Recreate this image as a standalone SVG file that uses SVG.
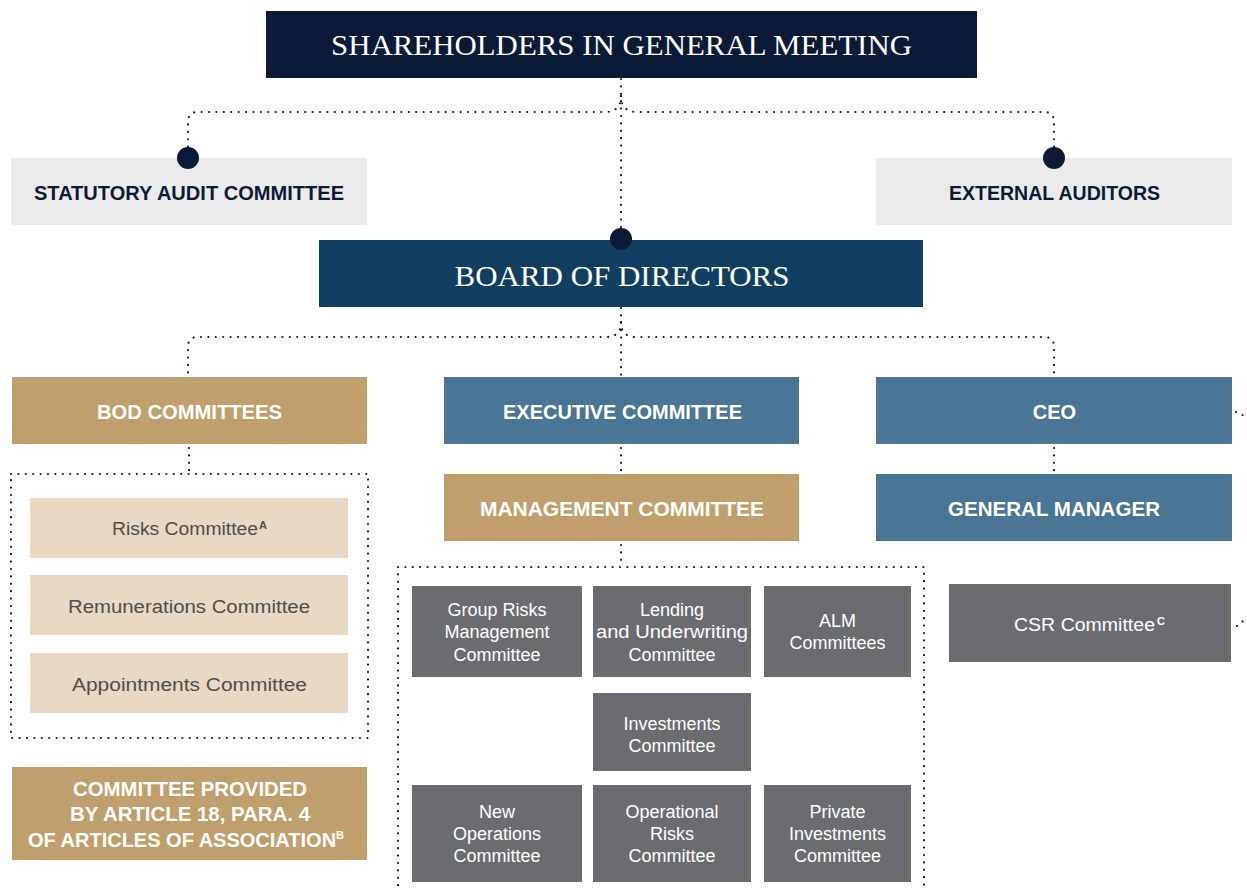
<svg xmlns="http://www.w3.org/2000/svg" width="1247" height="891" viewBox="0 0 1247 891">
<style>
.conn{fill:none;stroke:#0b1a36;stroke-width:2.2;stroke-linecap:round;stroke-dasharray:0 7.4}
.dot{fill:#0b1a36}
.serif{font-family:"Liberation Serif","DejaVu Serif",serif;fill:#ffffff;text-anchor:middle}
.hb{font-family:"Liberation Sans","DejaVu Sans",sans-serif;font-weight:bold;font-size:20px;text-anchor:middle}
.lt{font-family:"Liberation Sans","DejaVu Sans",sans-serif;font-size:18px;text-anchor:middle}
.w{fill:#ffffff}
.nv{fill:#0b1a36}
.gt{fill:#4d4d4d}
.sup{font-family:"Liberation Sans","DejaVu Sans",sans-serif;font-size:11px;font-weight:bold}
</style>
<rect width="1247" height="891" fill="#ffffff"/>
<g id="connectors">
<path class="conn" d="M621,79 L621,238"/>
<path class="conn" d="M621,96 Q621,112 605,112 L198,112 Q188,112 188,122 L188,150"/>
<path class="conn" d="M621,96 Q621,112 637,112 L1044,112 Q1054,112 1054,122 L1054,150"/>
<path class="conn" d="M621,308 L621,377"/>
<path class="conn" d="M621,322 Q621,337 606,337 L198,337 Q188,337 188,347 L188,377"/>
<path class="conn" d="M621,322 Q621,337 636,337 L1044,337 Q1054,337 1054,347 L1054,377"/>
<path class="conn" d="M189,448 L189,474"/>
<path class="conn" d="M621,448 L621,474"/>
<path class="conn" d="M1054,448 L1054,474"/>
<path class="conn" d="M621,545 L621,567"/>
<rect class="conn" x="11" y="474" width="357" height="264"/>
<path class="conn" d="M398,900 L398,567 L924,567 L924,900"/>
<path class="conn" d="M1236,412 Q1244,414 1252,424"/>
<path class="conn" d="M1237,626 Q1244,621 1252,612"/>
</g>
<g id="shareholders">
<rect x="266" y="11" width="711" height="67" fill="#0b1a36"/>
<text class="serif" x="621.5" y="55" font-size="29" textLength="581" lengthAdjust="spacingAndGlyphs">SHAREHOLDERS IN GENERAL MEETING</text>
</g>
<g id="statutory-audit">
<rect x="11" y="158" width="356" height="67" fill="#ebebeb"/>
<circle class="dot" cx="188" cy="158" r="11"/>
<text class="hb nv" x="189" y="200" textLength="310" lengthAdjust="spacingAndGlyphs">STATUTORY AUDIT COMMITTEE</text>
</g>
<g id="external-auditors">
<rect x="876" y="158" width="356" height="67" fill="#ebebeb"/>
<circle class="dot" cx="1054" cy="158" r="11"/>
<text class="hb nv" x="1054.5" y="200" textLength="211" lengthAdjust="spacingAndGlyphs">EXTERNAL AUDITORS</text>
</g>
<g id="board">
<rect x="319" y="240" width="604" height="67" fill="#123e62"/>
<circle class="dot" cx="621" cy="239" r="11"/>
<text class="serif" x="622" y="286" font-size="29" textLength="335" lengthAdjust="spacingAndGlyphs">BOARD OF DIRECTORS</text>
</g>
<g id="bod-committees">
<rect x="12" y="377" width="355" height="67" fill="#bfa06d"/>
<text class="hb w" x="189.5" y="419" textLength="185" lengthAdjust="spacingAndGlyphs">BOD COMMITTEES</text>
</g>
<g id="executive-committee">
<rect x="444" y="377" width="355" height="67" fill="#4b7594"/>
<text class="hb w" x="622.5" y="419" textLength="239" lengthAdjust="spacingAndGlyphs">EXECUTIVE COMMITTEE</text>
</g>
<g id="ceo">
<rect x="876" y="377" width="356" height="67" fill="#4b7594"/>
<text class="hb w" x="1054.5" y="419">CEO</text>
</g>
<g id="management-committee">
<rect x="444" y="474" width="355" height="67" fill="#bfa06d"/>
<text class="hb w" x="622" y="516" textLength="284" lengthAdjust="spacingAndGlyphs">MANAGEMENT COMMITTEE</text>
</g>
<g id="general-manager">
<rect x="876" y="474" width="356" height="67" fill="#4b7594"/>
<text class="hb w" x="1054" y="516" textLength="212" lengthAdjust="spacingAndGlyphs">GENERAL MANAGER</text>
</g>
<g id="risks-committee">
<rect x="30" y="498" width="318" height="60" fill="#e9d8c4"/>
<text class="lt gt" x="185" y="535" textLength="146" lengthAdjust="spacingAndGlyphs">Risks Committee</text>
<text class="sup gt" x="259" y="529">A</text>
</g>
<g id="remunerations-committee">
<rect x="30" y="575" width="318" height="60" fill="#e9d8c4"/>
<text class="lt gt" x="189" y="613" textLength="242" lengthAdjust="spacingAndGlyphs">Remunerations Committee</text>
</g>
<g id="appointments-committee">
<rect x="30" y="653" width="318" height="60" fill="#e9d8c4"/>
<text class="lt gt" x="189.5" y="691" textLength="235" lengthAdjust="spacingAndGlyphs">Appointments Committee</text>
</g>
<g id="article-18-committee">
<rect x="12" y="767" width="355" height="93" fill="#bfa06d"/>
<text class="hb w" x="190" y="796" textLength="234" lengthAdjust="spacingAndGlyphs">COMMITTEE PROVIDED</text>
<text class="hb w" x="190" y="821" textLength="240" lengthAdjust="spacingAndGlyphs">BY ARTICLE 18, PARA. 4</text>
<text class="hb w" x="186" y="847">OF ARTICLES OF ASSOCIATION<tspan class="sup" dy="-8">B</tspan></text>
</g>
<g id="group-risks">
<rect x="412" y="586" width="170" height="91" fill="#6b6c70"/>
<text class="lt w" x="497" y="616">Group Risks</text>
<text class="lt w" x="497" y="638">Management</text>
<text class="lt w" x="497" y="661">Committee</text>
</g>
<g id="lending">
<rect x="593" y="586" width="158" height="91" fill="#6b6c70"/>
<text class="lt w" x="672" y="616">Lending</text>
<text class="lt w" x="672" y="638" textLength="152" lengthAdjust="spacingAndGlyphs">and Underwriting</text>
<text class="lt w" x="672" y="661">Committee</text>
</g>
<g id="alm">
<rect x="764" y="586" width="147" height="91" fill="#6b6c70"/>
<text class="lt w" x="837.5" y="627">ALM</text>
<text class="lt w" x="837.5" y="649">Committees</text>
</g>
<g id="investments">
<rect x="593" y="693" width="158" height="78" fill="#6b6c70"/>
<text class="lt w" x="672" y="730">Investments</text>
<text class="lt w" x="672" y="752">Committee</text>
</g>
<g id="new-operations">
<rect x="412" y="785" width="170" height="97" fill="#6b6c70"/>
<text class="lt w" x="497" y="818">New</text>
<text class="lt w" x="497" y="840">Operations</text>
<text class="lt w" x="497" y="862">Committee</text>
</g>
<g id="operational-risks">
<rect x="593" y="785" width="158" height="97" fill="#6b6c70"/>
<text class="lt w" x="672" y="818">Operational</text>
<text class="lt w" x="672" y="840">Risks</text>
<text class="lt w" x="672" y="862">Committee</text>
</g>
<g id="private-investments">
<rect x="764" y="785" width="147" height="97" fill="#6b6c70"/>
<text class="lt w" x="837.5" y="818">Private</text>
<text class="lt w" x="837.5" y="840">Investments</text>
<text class="lt w" x="837.5" y="862">Committee</text>
</g>
<g id="csr-committee">
<rect x="949" y="584" width="282" height="78" fill="#6b6c70"/>
<text class="lt w" x="1084.5" y="631" textLength="141" lengthAdjust="spacingAndGlyphs">CSR Committee</text>
<text class="sup w" x="1157" y="625">C</text>
</g>
</svg>
